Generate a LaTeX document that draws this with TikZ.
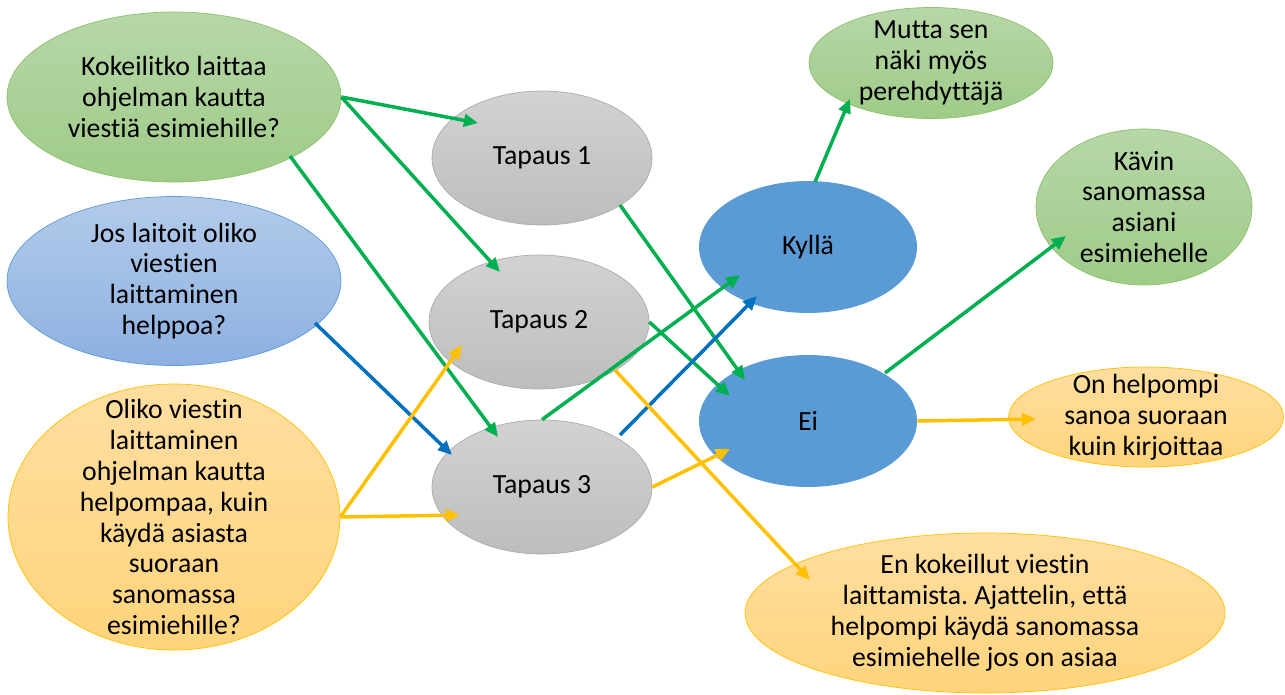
\documentclass[tikz,border=0pt]{standalone}
\usepackage{fontspec}
\setmainfont{Carlito}[Ligatures={NoCommon}]
\usepackage{tikz}
\usetikzlibrary{arrows.meta}
\usetikzlibrary{calc}
\usetikzlibrary{shapes.geometric}
\usetikzlibrary{positioning}
\frenchspacing

\definecolor{arrgreen}{HTML}{00B050}
\definecolor{arrblue}{HTML}{0070C0}
\definecolor{arrorange}{HTML}{FFC000}
\definecolor{greenline}{HTML}{8CC168}
\definecolor{greentop}{HTML}{B6D7A8}
\definecolor{greenbot}{HTML}{9FCB88}
\definecolor{blueline}{HTML}{5B9BD5}
\definecolor{bluetop}{HTML}{B3CBEA}
\definecolor{bluebot}{HTML}{8DB0E1}
\definecolor{orangeline}{HTML}{FFC000}
\definecolor{orangetop}{HTML}{FFDEA0}
\definecolor{orangebot}{HTML}{FFD47C}
\definecolor{grayline}{HTML}{ABABAB}
\definecolor{graytop}{HTML}{D2D2D2}
\definecolor{graybot}{HTML}{BDBDBD}
\definecolor{answerfill}{HTML}{5B9BD5}

\tikzset{
	bubble/.style={ellipse, inner xsep=0pt, inner ysep=-0.3cm, align=center,
	               font=\fontsize{15.8}{17.6}\selectfont},
	greenbubble/.style={bubble, draw=greenline, top color=greentop, bottom color=greenbot},
	bluebubble/.style={bubble, draw=blueline, top color=bluetop, bottom color=bluebot},
	orangebubble/.style={bubble, draw=orangeline, top color=orangetop, bottom color=orangebot},
	graybubble/.style={bubble, draw=grayline, top color=graytop, bottom color=graybot},
	answer/.style={bubble, fill=answerfill},
}

\begin{document}
\begin{tikzpicture}
	\useasboundingbox (0,0) rectangle (25.7,-13.88);

	% kysymykset
	\node[greenbubble, minimum width=6.68cm, minimum height=3.4cm] (q1) at (3.48,-1.94)
		{Kokeilitko laittaa\\ohjelman kautta\\viestiä esimiehille?};
	\node[bluebubble, minimum width=6.68cm, minimum height=3.38cm] (q2) at (3.48,-5.62)
		{Jos laitoit oliko\\viestien\\laittaminen\\helppoa?};
	\node[orangebubble, minimum width=6.64cm, minimum height=5.32cm, inner ysep=-0.75cm] (q3) at (3.48,-10.34)
		{Oliko viestin\\laittaminen\\ohjelman kautta\\helpompaa, kuin\\käydä asiasta\\suoraan\\sanomassa\\esimiehille?};

	% tapaukset
	\node[graybubble, minimum width=4.4cm, minimum height=2.68cm] (t1) at (10.84,-3.16) {Tapaus 1};
	\node[graybubble, minimum width=4.4cm, minimum height=2.68cm] (t2) at (10.78,-6.44) {Tapaus 2};
	\node[graybubble, minimum width=4.4cm, minimum height=2.68cm] (t3) at (10.84,-9.74) {Tapaus 3};

	% vastaukset
	\node[answer, minimum width=4.36cm, minimum height=2.64cm] (yes) at (16.16,-4.94) {Kyllä};
	\node[answer, minimum width=4.36cm, minimum height=2.64cm] (no) at (16.16,-8.42) {Ei};

	% perustelut
	\node[greenbubble, minimum width=4.88cm, minimum height=2.22cm] (mutta) at (18.62,-1.26)
		{Mutta sen\\näki myös\\perehdyttäjä};
	\node[greenbubble, minimum width=4.32cm, minimum height=3.12cm] (kavin) at (22.88,-4.14)
		{Kävin\\sanomassa\\asiani\\esimiehelle};
	\node[orangebubble, minimum width=5.5cm, minimum height=2.0cm] (helpompi) at (22.92,-8.34)
		{On helpompi\\sanoa suoraan\\kuin kirjoittaa};
	\node[orangebubble, minimum width=9.6cm, minimum height=3.2cm] (kokeillut) at (19.7,-12.26)
		{En kokeillut viestin\\laittamista. Ajattelin, että\\helpompi käydä sanomassa\\esimiehelle jos on asiaa};

	\begin{scope}[>={Triangle[length=8pt,width=7pt]},
	              every edge/.style={draw=arrgreen, line width=2pt, ->}]
		\path (q1.east) edge ($(t1)+(-1.28,0.7)$);
		\path (q1.east) edge ($(t2)+(-0.78,1.0)$);
		\path ($(q1)+(2.32,-1.18)$) edge ($(t3)+(-0.88,1.0)$);
		\path ($(t1)+(1.56,-0.94)$) edge ($(no)+(-1.26,0.82)$);
		\path (t2.east) edge ($(no)+(-1.56,0.5)$);
		\path (t3.north) edge ($(yes)+(-1.36,-0.56)$);
		\path ($(yes)+(0.14,1.3)$) edge ($(mutta)+(-1.62,-0.72)$);
		\path ($(no)+(1.54,0.96)$) edge ($(kavin)+(-1.56,-0.58)$);
	\end{scope}

	\begin{scope}[>={Triangle[length=8pt,width=7pt]},
	              every edge/.style={draw=arrblue, line width=2pt, ->}]
		\path ($(q2)+(2.82,-0.84)$) edge ($(t3)+(-1.8,0.64)$);
		\path ($(t3)+(1.56,1.04)$) edge ($(yes)+(-1.02,-0.98)$);
	\end{scope}

	\begin{scope}[>={Triangle[length=8pt,width=7pt]},
	              every edge/.style={draw=arrorange, line width=2pt, ->}]
		\path (q3.east) edge ($(t2)+(-1.54,-0.46)$);
		\path (q3.east) edge ($(t3)+(-1.64,-0.56)$);
		\path ($(t2)+(1.52,-0.96)$) edge ($(kokeillut)+(-3.5,0.66)$);
		\path (t3.east) edge ($(no)+(-1.56,-0.56)$);
		\path (no.east) edge ($(helpompi)+(-2.2,-0.04)$);
	\end{scope}
\end{tikzpicture}
\end{document}
